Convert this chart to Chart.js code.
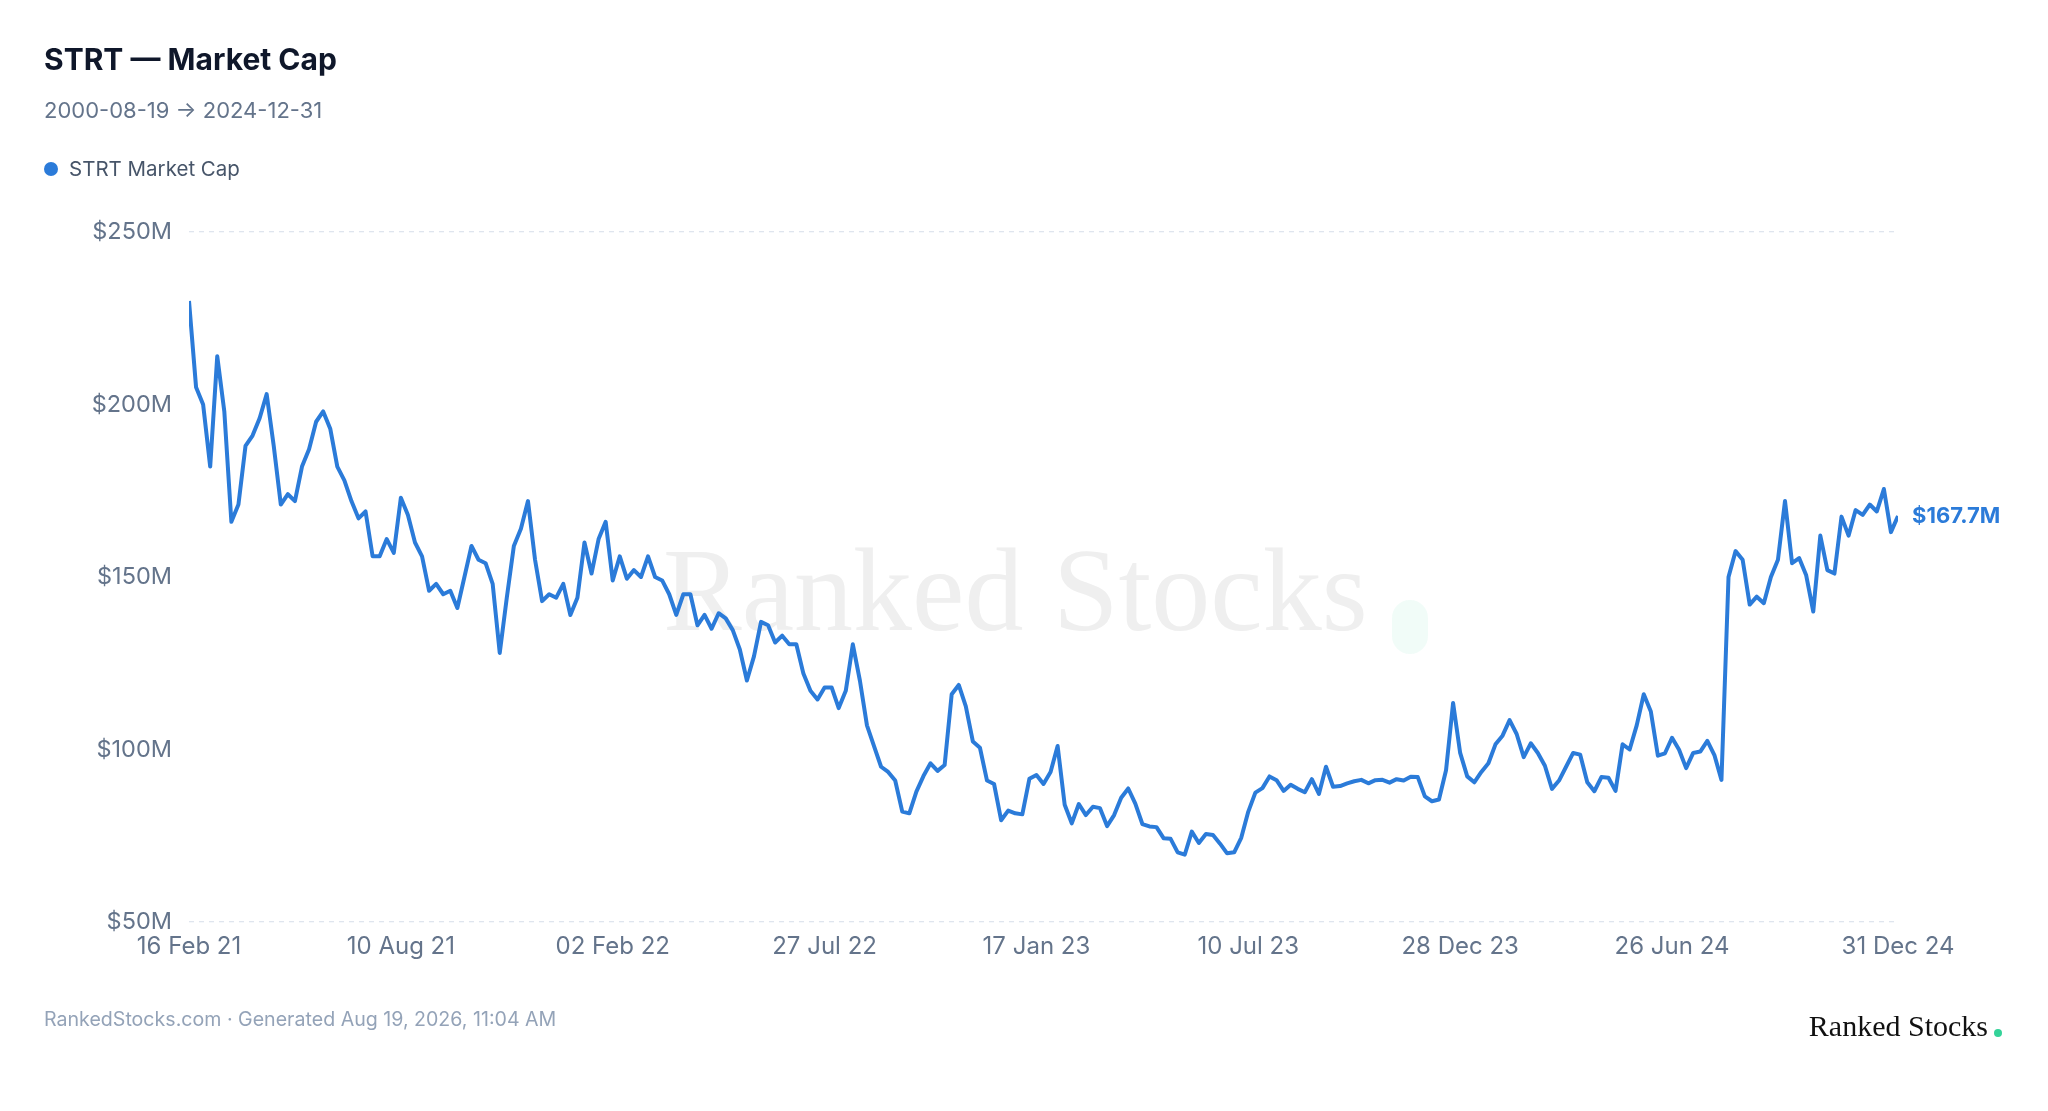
<!DOCTYPE html>
<html>
<head>
<meta charset="utf-8">
<script src="https://cdn.jsdelivr.net/npm/chart.js@4.4.1/dist/chart.umd.min.js"></script>
<style>
  html, body { margin: 0; padding: 0; background: #fff; }
  body { width: 2048px; height: 1111px; position: relative; overflow: hidden; font-family: Inter, "Noto Sans", sans-serif; }
  #chart { position: absolute; left: 0; top: 0; }
  .abs { position: absolute; white-space: nowrap; line-height: 1; }
  #title { left: 44px; top: 44px; font-size: 30px; font-weight: 700; color: #0f172a; }
  #subtitle { left: 44px; top: 99px; font-size: 22px; color: #64748b; }
  #legend { left: 44px; top: 159px; font-size: 20.5px; color: #475569; }
  #legend .dot { display: inline-block; width: 14px; height: 14px; border-radius: 50%; background: #2b7bd9; margin-right: 11px; vertical-align: 0px; }
  #footer { left: 44px; top: 1010px; font-size: 19.6px; color: #94a3b8; }
  #logo { right: 60px; top: 1011px; font-size: 30px; font-family: "Liberation Serif", "DejaVu Serif", serif; color: #111; }
  #logoDot { position: absolute; left: 1994px; top: 1029px; width: 8px; height: 8px; border-radius: 50%; background: #34d399; }
</style>
</head>
<body>
<canvas id="chart" width="2048" height="1111"></canvas>
<div class="abs" id="title">STRT — Market Cap</div>
<div class="abs" id="subtitle">2000-08-19 → 2024-12-31</div>
<div class="abs" id="legend"><span class="dot"></span>STRT Market Cap</div>
<div class="abs" id="footer">RankedStocks.com · Generated Aug 19, 2026, 11:04 AM</div>
<div class="abs" id="logo">Ranked Stocks</div>
<div id="logoDot"></div>
<script>
// Market cap in $M, one sample every few trading days from 16 Feb 21 to 31 Dec 24
const marketCap = [
  230, 205, 200, 182, 214, 198, 166, 171, 188, 191,
  196, 203, 188, 171, 174, 172, 182, 187, 195, 198,
  193, 182, 178, 172, 167, 169, 156, 156, 161, 157,
  173, 168, 160, 156, 146, 148, 145, 146, 141, 150,
  159, 155, 154, 148, 128, 144, 159, 164, 172, 155,
  143, 145, 144, 148, 139, 144, 160, 151, 161, 166,
  149, 156, 149.5, 152, 150, 156, 150, 149, 145, 139,
  145, 145, 136, 139, 135, 139.5, 138, 134.6, 129, 120,
  127, 137, 136, 131, 133, 130.5, 130.5, 122, 117, 114.5,
  118, 118, 112, 117, 130.5, 120, 107, 101, 95, 93.5,
  91, 82, 81.5, 87.8, 92.3, 96, 93.8, 95.5, 116, 118.7,
  112.5, 102.3, 100.5, 91, 90, 79.5, 82.3, 81.5, 81.2, 91.5,
  92.6, 90, 93.5, 101, 84, 78.6, 84.2, 81, 83.4, 83,
  77.8, 81, 86, 88.7, 84.3, 78.4, 77.7, 77.5, 74.3, 74.1,
  70.2, 69.5, 76.2, 72.9, 75.5, 75.2, 72.7, 69.9, 70.2, 74.4,
  82, 87.5, 88.8, 92.2, 91.1, 88, 89.8, 88.6, 87.6, 91.4,
  87.1, 95, 89.2, 89.4, 90.2, 90.8, 91.2, 90.2, 91.1, 91.2,
  90.4, 91.4, 91, 92.1, 92, 86.4, 85, 85.5, 94, 113.5,
  99, 92.2, 90.5, 93.5, 96, 101.5, 104, 108.5, 104.5, 97.8,
  101.8, 99, 95.3, 88.6, 91, 95, 99, 98.5, 90.5, 87.9,
  92, 91.8, 88, 101.5, 100, 107, 116, 111, 98.2, 98.9,
  103.4, 99.9, 94.6, 99, 99.4, 102.5, 98.4, 91.2, 150, 157.5,
  155, 142, 144.3, 142.4, 150, 155, 172, 154, 155.5, 150.5,
  140, 162, 152, 151, 167.5, 162, 169.4, 168, 171, 169,
  175.5, 163, 167.7
];

// x-axis ticks (sample index -> label)
const tickIndex = [0, 30, 60, 90, 120, 150, 180, 210, 242];
const tickLabels = ['16 Feb 21', '10 Aug 21', '02 Feb 22', '27 Jul 22', '17 Jan 23', '10 Jul 23', '28 Dec 23', '26 Jun 24', '31 Dec 24'];

// y-axis ticks in $M
const yTicks = [50, 100, 150, 200, 250];

const lineColor = '#2b7bd9';
const axisText = '#64748b';

// faint watermark behind the line
const watermark = {
  id: 'watermark',
  beforeDatasetsDraw(chart) {
    const ctx = chart.ctx;
    ctx.save();
    ctx.font = '118px "Liberation Serif", "DejaVu Serif", serif';
    ctx.fillStyle = '#efefef';
    ctx.textBaseline = 'alphabetic';
    ctx.textAlign = 'left';
    ctx.fillText('Ranked Stocks', 663, 630);
    ctx.fillStyle = 'rgba(52, 211, 153, 0.07)';
    ctx.beginPath();
    ctx.roundRect(1392, 600, 36, 54, 18);
    ctx.fill();
    ctx.restore();
  }
};

// value label at the end of the line
const endLabel = {
  id: 'endLabel',
  afterDatasetsDraw(chart) {
    const ctx = chart.ctx;
    const last = marketCap.length - 1;
    const x = chart.scales.x.getPixelForValue(last);
    const y = chart.scales.y.getPixelForValue(marketCap[last]);
    ctx.save();
    ctx.font = '700 22px Inter, "Noto Sans", sans-serif';
    ctx.fillStyle = lineColor;
    ctx.textAlign = 'left';
    ctx.textBaseline = 'middle';
    ctx.fillText('$' + marketCap[last].toFixed(1) + 'M', x + 14, y);
    ctx.restore();
  }
};

new Chart(document.getElementById('chart'), {
  type: 'line',
  data: {
    datasets: [{
      label: 'STRT Market Cap',
      data: marketCap.map((v, i) => ({ x: i, y: v })),
      borderColor: lineColor,
      borderWidth: 4,
      pointRadius: 0,
      tension: 0,
      borderJoinStyle: 'round',
      fill: false
    }]
  },
  options: {
    responsive: false,
    devicePixelRatio: 1,
    animation: false,
    layout: { padding: { left: 0, top: 232, right: 150, bottom: 129 } },
    plugins: { legend: { display: false }, tooltip: { enabled: false } },
    scales: {
      x: {
        type: 'linear',
        min: 0,
        max: marketCap.length - 1,
        afterFit(scale) { scale.height = 60; },
        afterBuildTicks(scale) { scale.ticks = tickIndex.map(v => ({ value: v })); },
        grid: { display: false, drawTicks: false },
        border: { display: false },
        ticks: {
          autoSkip: false,
          maxRotation: 0,
          padding: 10,
          color: axisText,
          font: { family: 'Inter', size: 24 },
          callback: (v) => tickLabels[tickIndex.indexOf(v)]
        }
      },
      y: {
        min: 50,
        max: 250,
        afterFit(scale) { scale.width = 189; },
        afterBuildTicks(scale) { scale.ticks = yTicks.map(v => ({ value: v })); },
        grid: {
          drawTicks: false,
          lineWidth: 1.3,
          color: (c) => (c.tick && (c.tick.value === 50 || c.tick.value === 250)) ? '#dfe5ee' : 'rgba(0,0,0,0)'
        },
        border: { display: false, dash: [5, 5] },
        ticks: {
          padding: 17,
          color: axisText,
          font: { family: 'Inter', size: 23.5 },
          callback: (v) => '$' + v + 'M'
        }
      }
    }
  },
  plugins: [watermark, endLabel]
});
</script>
</body>
</html>
